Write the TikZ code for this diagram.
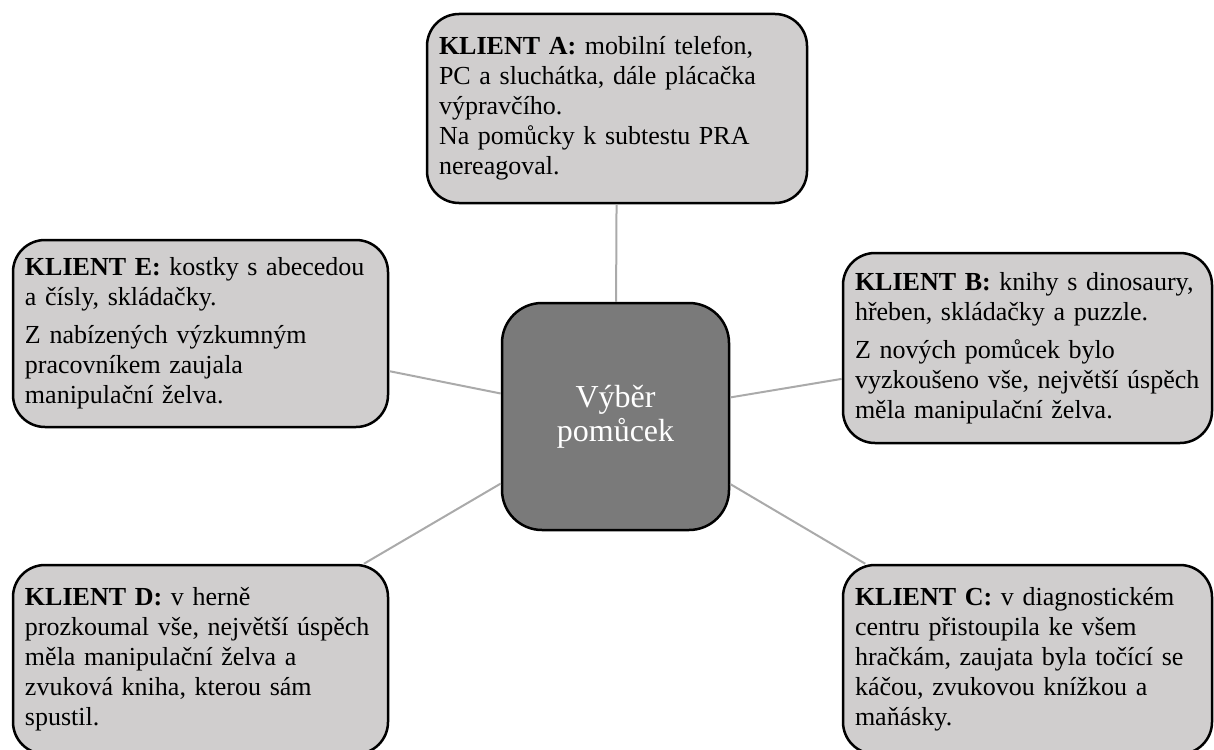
\documentclass[tikz,border=0pt]{standalone}
\usepackage{fontspec}
\setmainfont{Liberation Serif}
\usetikzlibrary{positioning}
\definecolor{boxGray}{RGB}{208,206,206}
\definecolor{midGray}{RGB}{122,122,122}
\definecolor{lineGray}{RGB}{170,170,170}

\tikzset{
  klientbox/.style={draw=black, line width=1.25pt, fill=boxGray, rounded corners=16pt,
    inner xsep=6pt, inner ysep=0pt, align=left,
    font=\fontsize{13}{15}\selectfont},
  centerbox/.style={draw=black, line width=1.25pt, fill=midGray, rounded corners=20pt,
    text=white, align=center, minimum width=113.5pt, minimum height=113.5pt,
    font=\fontsize{16}{17}\selectfont},
  spoj/.style={draw=lineGray, line width=1pt}
}

\begin{document}
\begin{tikzpicture}[x=0.5pt, y=-0.5pt]
  \useasboundingbox (0,0) rectangle (1214,749);

  % central topic
  \node[centerbox] (vyber) at (615.5,416.5) {Výběr\\pomůcek};

  % clients
  \node[klientbox, text width=178pt, minimum height=94.5pt] (klientA) at (617,108.5) {
    \textbf{KLIENT A:} mobilní telefon,\\
    PC a sluchátka, dále plácačka\\
    výpravčího.\\
    Na pomůcky k subtestu PRA\\
    nereagoval.};

  \node[klientbox, text width=172.5pt, minimum height=95pt] (klientB) at (1027.5,348) {
    \textbf{KLIENT B:} knihy s dinosaury,\\
    hřeben, skládačky a puzzle.\\[4pt]
    Z nových pomůcek bylo\\
    vyzkoušeno vše, největší úspěch\\
    měla manipulační želva.};

  \node[klientbox, text width=172.5pt, minimum height=94.5pt] (klientC) at (1027.5,659.5) {
    \textbf{KLIENT C:} v diagnostickém\\
    centru přistoupila ke všem\\
    hračkám, zaujata byla točící se\\
    káčou, zvukovou knížkou a\\
    maňásky.};

  \node[klientbox, text width=175.5pt, minimum height=94.5pt] (klientD) at (200.5,659.5) {
    \textbf{KLIENT D:} v herně\\
    prozkoumal vše, největší úspěch\\
    měla manipulační želva a\\
    zvuková kniha, kterou sám\\
    spustil.};

  \node[klientbox, text width=175.5pt, minimum height=93.5pt] (klientE) at (200.5,333.5) {
    \textbf{KLIENT E:} kostky s abecedou\\
    a čísly, skládačky.\\[4pt]
    Z nabízených výzkumným\\
    pracovníkem zaujala\\
    manipulační želva.};

  % connectors
  \foreach \k in {klientA,klientB,klientC,klientD,klientE}
    \draw[spoj] (vyber) -- (\k);
\end{tikzpicture}
\end{document}
